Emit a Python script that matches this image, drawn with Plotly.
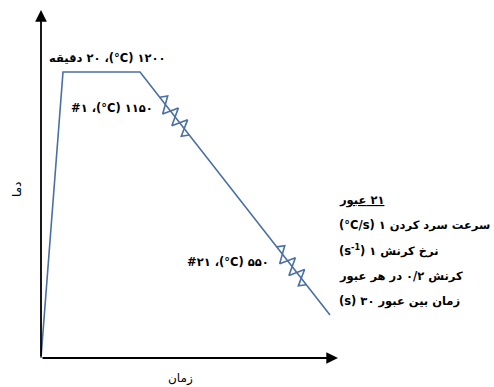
import numpy as np
import plotly.graph_objects as go

# schematic thermomechanical cycle (arbitrary time / temperature units)
profile_time = [0, 22, 99, 289]
profile_temp = [0, 286, 286, 43]

# position of the two pass symbols along the cooling line
pass_along = [32, 222]
# zigzag template: distance along the line, offset across it
zig_along = [0, 4, 15, 20, 30, 35, 44, 48]
zig_perp = [0, 7, -8, 8, -8, 8, -7, 0]

LRM = "\u200e"
LRE, PDF = "\u202a", "\u202c"
hold_label = "دقیقه" + LRM + " ۲۰ ،(°C) ۱۲۰۰"
first_pass_label = "#۱ ،(°C) ۱۱۵۰"
last_pass_label = "#۲۱ ،(°C) ۵۵۰"
info_lines = [
    "<u>عبور" + LRM + " ۲۱</u>",
    "(°C/s) ۱ سرعت سرد کردن",
    "(s<sup>-1</sup>) ۱ نرخ کرنش",
    "در هر عبور" + LRM + " ۰/۲ کرنش",
    "(s) ۳۰ زمان بین عبور",
]
x_title = "زمان"
y_title = "دما"

line_color = "#4a6fa5"
font_b = "DejaVu Sans"

fig = go.Figure()

fig.add_trace(go.Scatter(x=profile_time, y=profile_temp, mode="lines",
                         line=dict(color=line_color, width=1.6),
                         hoverinfo="skip", cliponaxis=False))

# zigzags on the cooling segment
p0 = np.array([profile_time[2], profile_temp[2]], dtype=float)
p1 = np.array([profile_time[3], profile_temp[3]], dtype=float)
u = (p1 - p0) / np.linalg.norm(p1 - p0)
n = np.array([-u[1], u[0]])
if n[0] < 0:
    n = -n
for a0 in pass_along:
    pts = [p0 + (a0 + a) * u + b * n for a, b in zip(zig_along, zig_perp)]
    fig.add_trace(go.Scatter(x=[p[0] for p in pts], y=[p[1] for p in pts],
                             mode="lines", line=dict(color=line_color, width=1.6),
                             hoverinfo="skip", cliponaxis=False))

# axes drawn as arrows
fig.add_annotation(x=0, y=348, ax=0, ay=0, xref="x", yref="y", axref="x", ayref="y",
                   showarrow=True, arrowhead=2, arrowsize=1.3, arrowwidth=1.8,
                   arrowcolor="black", text="")
fig.add_annotation(x=297, y=0, ax=0, ay=0, xref="x", yref="y", axref="x", ayref="y",
                   showarrow=True, arrowhead=2, arrowsize=1.3, arrowwidth=1.8,
                   arrowcolor="black", text="")


def bidi(s):
    return LRE + s + PDF


txt = dict(family=font_b, size=11.5, color="black")
fig.add_annotation(x=66, y=300, text="<b>" + bidi(hold_label) + "</b>", showarrow=False, font=txt)
fig.add_annotation(x=71, y=250, text="<b>" + bidi(first_pass_label) + "</b>", showarrow=False, font=txt)
fig.add_annotation(x=187, y=96, text="<b>" + bidi(last_pass_label) + "</b>", showarrow=False, font=txt)

info_y = [158, 133, 108, 82, 57]
for t, yy in zip(info_lines, info_y):
    fig.add_annotation(x=296, y=yy, text="<b>" + bidi(t) + "</b>", showarrow=False,
                       xanchor="left", font=txt)

fig.add_annotation(x=139, y=-20, text=x_title, showarrow=False,
                   font=dict(family=font_b, size=12, color="black"))
fig.add_annotation(x=-24, y=168, text=y_title, showarrow=False, textangle=-90,
                   font=dict(family=font_b, size=12, color="black"))

fig.update_xaxes(range=[-41, 453], visible=False)
fig.update_yaxes(range=[-29, 358], visible=False)
fig.update_layout(width=494, height=387, margin=dict(l=0, r=0, t=0, b=0),
                  plot_bgcolor="white", paper_bgcolor="white", showlegend=False)

fig.write_html("out.html", config={"displayModeBar": False},
               post_script="document.body.style.margin='0';")
